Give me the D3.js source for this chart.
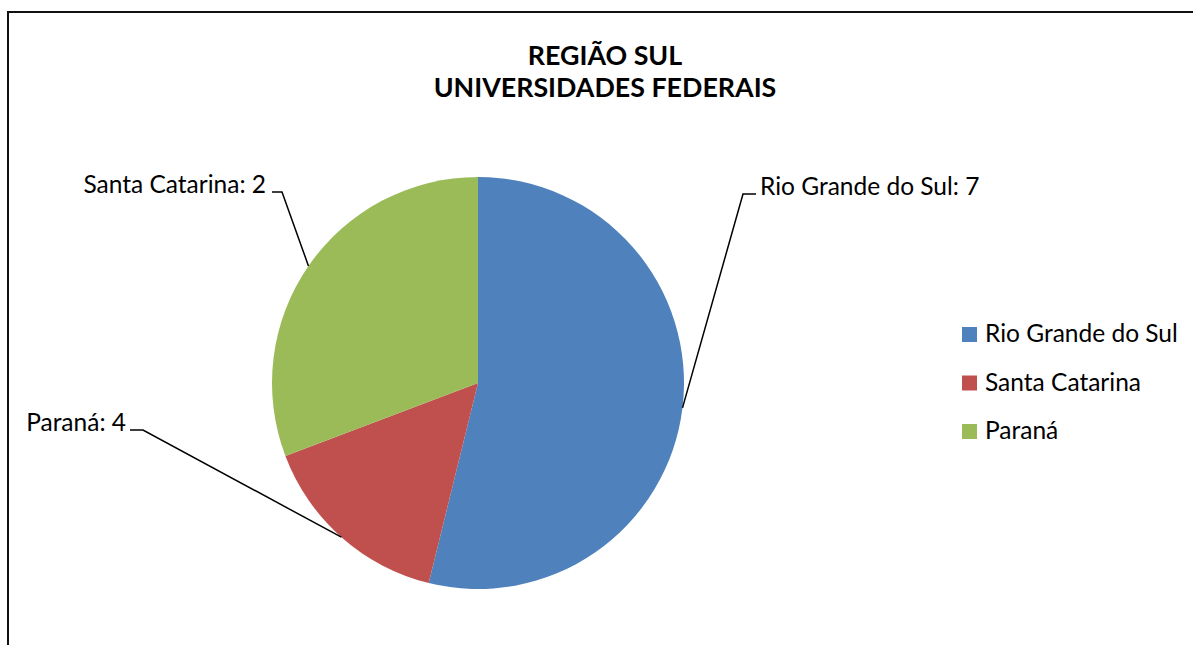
<!DOCTYPE html>
<html><head><meta charset="utf-8">
<script src="https://cdn.jsdelivr.net/npm/d3@7/dist/d3.min.js"></script>
<style>html,body{margin:0;padding:0;background:#fff;}svg{display:block;}</style>
</head><body>
<script>
// ---- data ----
const categories = ["Rio Grande do Sul", "Santa Catarina", "Paraná"];
const values = [7, 2, 4];
const colors = ["#4F81BD", "#C0504D", "#9BBB59"];
// data label shown at each slice's leader line (as in the original chart)
const labelCategoryForSlice = [0, 2, 1];
const titleLines = ["REGIÃO SUL", "UNIVERSIDADES FEDERAIS"];

// ---- layout ----
const W = 1193, H = 645;
const font = "Lato, 'Open Sans', sans-serif";
const svg = d3.select("body").append("svg").attr("width", W).attr("height", H);

svg.append("rect").attr("x", 8).attr("y", 12).attr("width", 1300).attr("height", 800)
  .attr("fill", "#fff").attr("stroke", "#111").attr("stroke-width", 2);

// title
svg.append("g").selectAll("text").data(titleLines).join("text")
  .attr("x", 605).attr("y", (d, i) => 65 + i * 32)
  .attr("text-anchor", "middle").attr("font-family", font).attr("font-weight", "bold")
  .attr("font-size", 26.8).attr("fill", "#000").text(d => d);

// pie
const cx = 478, cy = 383, R = 206;
const pie = d3.pie().sort(null).value(d => d);
const arcs = pie(values);
const arc = d3.arc().innerRadius(0).outerRadius(R);
const g = svg.append("g").attr("transform", `translate(${cx},${cy})`);
g.selectAll("path").data(arcs).join("path")
  .attr("d", arc).attr("fill", (d, i) => colors[i]);

// leader lines + labels
const fs = 24.5;
const elbows = [
  {x1: 743, x2: 756, y: 194, tx: 760, anchor: "start"},
  {x1: 130, x2: 143, y: 430, tx: 126, anchor: "end"},
  {x1: 272, x2: 282, y: 192, tx: 266, anchor: "end"}
];
arcs.forEach((a, i) => {
  const m = (a.startAngle + a.endAngle) / 2;
  const px = cx + R * Math.sin(m), py = cy - R * Math.cos(m);
  const e = elbows[i];
  const near = e.anchor === "start" ? e.x1 : e.x2;
  const far = e.anchor === "start" ? e.x2 : e.x1;
  svg.append("polyline")
    .attr("points", `${px},${py} ${near},${e.y} ${far},${e.y}`)
    .attr("fill", "none").attr("stroke", "#000").attr("stroke-width", 1.5);
  const c = labelCategoryForSlice[i];
  svg.append("text").attr("x", e.tx).attr("y", e.y + 1)
    .attr("text-anchor", e.anchor).attr("font-family", font).attr("font-size", fs)
    .attr("fill", "#000").text(`${categories[c]}: ${values[c]}`);
});

// legend
const lg = svg.append("g");
categories.forEach((c, i) => {
  const y = 342 + i * 48.5;
  lg.append("rect").attr("x", 962).attr("y", y - 15).attr("width", 15).attr("height", 15)
    .attr("fill", colors[i]);
  lg.append("text").attr("x", 985).attr("y", y).attr("font-family", font).attr("font-size", fs)
    .attr("fill", "#000").text(c);
});
</script>
</body></html>
